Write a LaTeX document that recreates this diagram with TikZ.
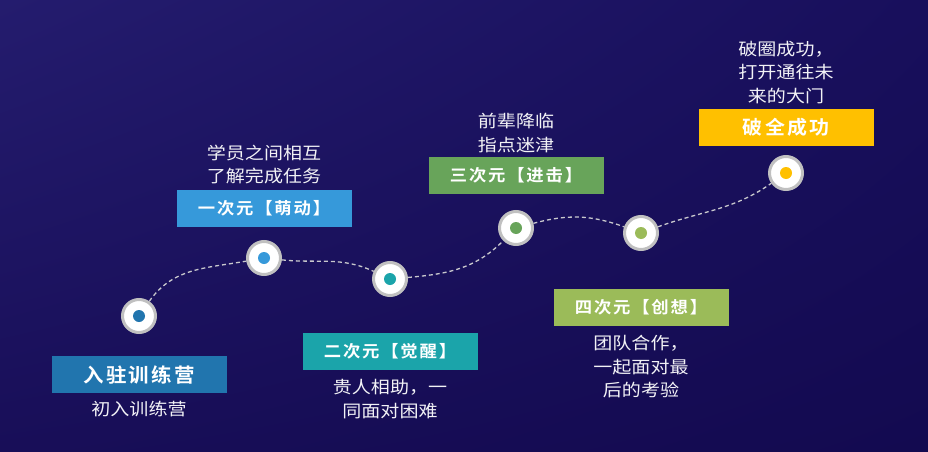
\documentclass[tikz,border=0pt]{standalone}
\usepackage{fontspec}
\usepackage{xcolor}
\usepackage{tikz}
\usetikzlibrary{positioning,shadings}

\newfontfamily\cjk[FakeStretch=1.12]{Noto Sans CJK SC}
\newfontfamily\cjkbold[FakeStretch=1.05,LetterSpace=11]{Noto Sans CJK SC Bold}

\definecolor{bgtl}{RGB}{36,28,110}
\definecolor{bgtr}{RGB}{24,15,92}
\definecolor{bgbl}{RGB}{24,14,88}
\definecolor{bgbr}{RGB}{19,10,80}
\definecolor{ringgray}{RGB}{192,192,192}
\definecolor{trailgray}{RGB}{200,200,205}
\definecolor{textwhite}{RGB}{242,242,246}
\definecolor{camp}{RGB}{33,117,174}
\definecolor{dimone}{RGB}{54,153,218}
\definecolor{dimtwo}{RGB}{27,164,170}
\definecolor{dimthree}{RGB}{104,164,90}
\definecolor{dimfour}{RGB}{155,187,89}
\definecolor{breakout}{RGB}{255,192,0}

\begin{document}
\begin{tikzpicture}[
    x=1pt, y=1pt,
    node distance=10pt,
    milestone/.style={
        circle,
        draw=ringgray,
        line width=3pt,
        fill=white,
        minimum size=33pt,
        inner sep=0pt,
        path picture={\fill[#1] (path picture bounding box.center) circle (6pt);}
    },
    stage/.style={
        minimum width=175pt,
        minimum height=37pt,
        inner sep=0pt,
        text=white,
        font=\cjkbold\fontsize{16.5}{18}\selectfont
    },
    desc/.style={
        align=center,
        inner sep=0pt,
        text=textwhite,
        font=\cjk\fontsize{17}{23.5}\selectfont
    },
    trail/.style={draw=trailgray, line width=1.3pt, dash pattern=on 4pt off 3pt}
]

% --- Background ---
\useasboundingbox (0,0) rectangle (928,451);
\shade[upper left=bgtl, upper right=bgtr, lower left=bgbl, lower right=bgbr]
    (0,0) rectangle (928,451);

% --- Milestones ---
\node[milestone=camp]     (p0) at (139,135) {};
\node[milestone=dimone]   (p1) at (264,193) {};
\node[milestone=dimtwo]   (p2) at (390,172) {};
\node[milestone=dimthree] (p3) at (516,223) {};
\node[milestone=dimfour]  (p4) at (641,218) {};
\node[milestone=breakout] (p5) at (786,278) {};

% --- Stages ---
\node[stage, fill=camp, font=\cjkbold\fontsize{19.5}{20}\selectfont, below=22pt of p0] (s0) {入驻训练营};
\node[stage, fill=dimone, above=13pt of p1] (s1) {一次元【萌动】};
\node[stage, fill=dimtwo, below=36pt of p2] (s2) {二次元【觉醒】};
\node[stage, fill=dimthree, above=16pt of p3] (s3) {三次元【进击】};
\node[stage, fill=dimfour, below=38pt of p4] (s4) {四次元【创想】};
\node[stage, fill=breakout, font=\cjkbold\fontsize{19}{20}\selectfont, above=9pt of p5] (s5) {破全成功};

% --- Descriptions ---
\node[desc, below=8pt of s0] (d0) {初入训练营};
\node[desc, above=5pt of s1] (d1) {学员之间相互\\了解完成任务};
\node[desc, below=9pt of s2] (d2) {贵人相助，一\\同面对困难};
\node[desc, above=4pt of s3] (d3) {前辈降临\\指点迷津};
\node[desc, below=9pt of s4] (d4) {团队合作，\\一起面对最\\后的考验};
\node[desc, above=5pt of s5] (d5) {破圈成功，\\打开通往未\\来的大门};

% --- Trail ---
\draw[trail] (p0) to[out=55,in=190] (p1)
    to[out=-6,in=155] (p2)
    to[out=5,in=225] (p3)
    to[out=15,in=160] (p4)
    to[out=20,in=215] (p5);

\end{tikzpicture}
\end{document}
